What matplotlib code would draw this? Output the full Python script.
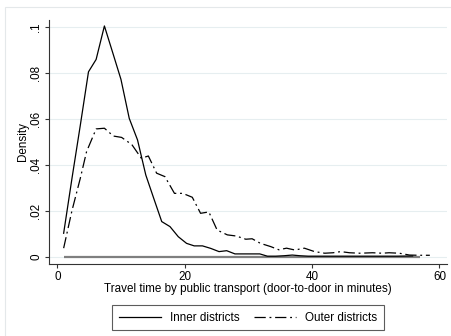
import matplotlib
matplotlib.use("Agg")
import matplotlib.pyplot as plt
from matplotlib.patches import Rectangle

plt.rcParams["font.family"] = ["Liberation Sans", "DejaVu Sans"]

# travel time (minutes) and density
inner_x = [1, 2.3, 3.6, 4.9, 6.1, 7.4, 8.7, 10.0, 11.3, 12.6, 13.9, 15.2, 16.4,
           17.7, 19.0, 20.3, 21.5, 22.8, 24.1, 25.4, 26.6, 27.9, 29.2, 30.5,
           31.8, 33.0, 34.3, 35.6, 36.9, 38.1, 39.4, 40.7, 43.2, 45.8, 48.3,
           50.8, 53.3, 55.8]
inner_y = [0.0102, 0.034, 0.057, 0.0806, 0.086, 0.1006, 0.089, 0.0773, 0.0603,
           0.0509, 0.0356, 0.025, 0.0153, 0.0131, 0.0087, 0.0058, 0.0047,
           0.0047, 0.0036, 0.0022, 0.0026, 0.0012, 0.0012, 0.0012, 0.0012,
           0.0002, 0.0002, 0.0004, 0.0007, 0.0004, 0.0002, 0.0002, 0.0002,
           0.0002, 0.0002, 0.0002, 0.0002, 0.0003]

outer_x = [1, 2.3, 3.6, 4.6, 6.1, 7.4, 8.8, 10.1, 11.7, 13.2, 14.3, 15.6, 16.9,
           18.4, 19.7, 21.2, 22.5, 23.8, 25.1, 26.7, 28.1, 29.6, 30.6, 31.9,
           33.5, 34.8, 36.0, 37.3, 38.8, 40.4, 42.0, 43.3, 44.5, 45.9, 47.5,
           49.5, 51.0, 52.1, 53.7, 55.3, 56.8, 58.5]
outer_y = [0.0037, 0.020, 0.034, 0.0458, 0.0557, 0.056, 0.0526, 0.052, 0.0489,
           0.0429, 0.0439, 0.0364, 0.0349, 0.0276, 0.0276, 0.0259, 0.0189,
           0.0195, 0.0116, 0.0095, 0.009, 0.0076, 0.0078, 0.0058, 0.0044,
           0.003, 0.0037, 0.0029, 0.0037, 0.0022, 0.0015, 0.0017, 0.0022,
           0.0017, 0.0015, 0.0017, 0.0015, 0.0017, 0.0015, 0.0007, 0.0006,
           0.0006]

base_x = [1, 57]
base_y = [0, 0]

y_ticks = [0, 0.02, 0.04, 0.06, 0.08, 0.1]
y_labels = ["0", ".02", ".04", ".06", ".08", ".1"]
x_ticks = [0, 20, 40, 60]

fig = plt.figure(figsize=(4.52, 3.36), dpi=100)
fig.patches.append(Rectangle((0.011, -0.1), 1.2, 1.08, transform=fig.transFigure,
                             fill=False, edgecolor="#e4e8ea", lw=0.8))
ax = fig.add_axes([0.1084, 0.2143, 0.8806, 0.7262])

ax.plot(base_x, base_y, color="#7f7f7f", lw=1.6, solid_capstyle="butt")
ax.plot(inner_x, inner_y, color="black", lw=0.9, label="Inner districts")
ax.plot(outer_x, outer_y, color="black", lw=0.9, linestyle=(0, (9, 3, 1.5, 3)),
        label="Outer districts")

ax.set_xlim(-1.3, 61.2)
ax.set_ylim(-0.0032, 0.1032)
ax.set_yticks(y_ticks)
ax.set_yticklabels(y_labels, rotation=90, va="center")
ax.set_xticks(x_ticks)
ax.grid(axis="y", color="#e6eef0", lw=0.8)
ax.set_axisbelow(True)
for s in ["top", "right"]:
    ax.spines[s].set_visible(False)
for s in ["left", "bottom"]:
    ax.spines[s].set_color("#333333")
    ax.spines[s].set_linewidth(0.8)
ax.tick_params(labelsize=8.4, length=2.8, width=0.8, color="#333333", pad=2)
ax.set_ylabel("Density", fontsize=8.4, labelpad=1)
ax.set_xlabel("Travel time by public transport (door-to-door in minutes)",
              fontsize=8.4, labelpad=0)

leg = ax.legend(loc="upper center", bbox_to_anchor=(0.5, -0.145), ncol=2,
                fontsize=8.4, frameon=True, fancybox=False, handlelength=3.6,
                columnspacing=1.2, borderpad=0.55, handletextpad=0.8)
leg.get_frame().set_edgecolor("#333333")
leg.get_frame().set_linewidth(0.8)

fig.savefig("out.png", dpi=100)
